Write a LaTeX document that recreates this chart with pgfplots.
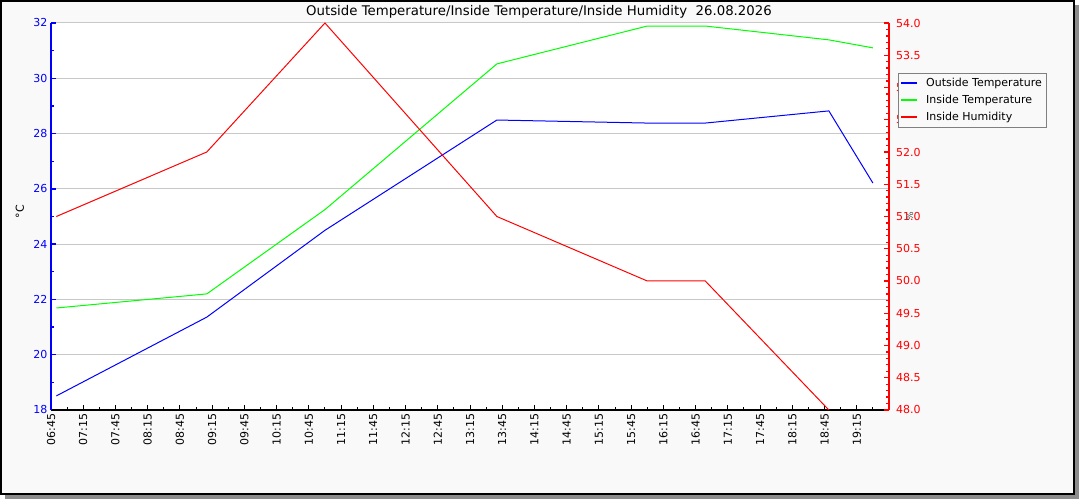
\documentclass[border=0pt]{standalone}
\usepackage{fontspec}
\setmainfont{DejaVu Sans}
\usepackage{pgfplots}
\pgfplotsset{compat=1.18}
\definecolor{bgc}{HTML}{F9F9F9}
\definecolor{gridc}{HTML}{C8C8C8}
\definecolor{shadowc}{HTML}{8C8C8C}
\definecolor{lgdc}{HTML}{808080}
\definecolor{pblue}{HTML}{0000FF}
\definecolor{pgreen}{HTML}{00FF00}
\definecolor{pred}{HTML}{FF0000}
\begin{document}
\begin{tikzpicture}
\useasboundingbox (0pt,0pt) rectangle (1080pt,500pt);
\fill[white] (0pt,0pt) rectangle (1080pt,500pt);
\fill[shadowc] (5pt,1pt) rectangle (1079pt,495pt);
\fill[bgc] (1pt,6pt) rectangle (1074pt,499pt);
\draw[black, line width=1.5pt] (1pt,6pt) rectangle (1074pt,499pt);
\node[font=\fontsize{13.3}{15}\selectfont, anchor=center] at (539pt,488.5pt) {Outside Temperature/Inside Temperature/Inside Humidity\ \ 26.08.2026};
\begin{axis}[
  at={(51pt,90pt)}, anchor=south west,
  scale only axis, width=838pt, height=387pt,
  xmin=6.75, xmax=19.75, ymin=18, ymax=32,
  axis x line*=bottom, axis y line*=left,
  axis line style={-},
  x axis line style={black, line width=1.2pt},
  y axis line style={pblue, line width=1.5pt},
  axis background/.style={fill=white},
  tick align=inside,
  major tick length=5pt, minor tick length=3pt,
  every x tick/.append style={black, line width=1pt},
  every y tick/.append style={pblue, line width=1.3pt},
  xtick={6.75,7.25,...,19.3},
  xticklabels={06:45,07:15,07:45,08:15,08:45,09:15,09:45,10:15,10:45,11:15,11:45,12:15,12:45,13:15,13:45,14:15,14:45,15:15,15:45,16:15,16:45,17:15,17:45,18:15,18:45,19:15},
  minor xtick={7,7.5,...,19.6},
  ytick={18,20,...,32},
  minor ytick={19,21,...,31},
  ymajorgrids,
  major grid style={gridc, line width=1pt},
  xticklabel style={rotate=90, anchor=east, black, font=\fontsize{11}{13}\selectfont},
  yticklabel style={pblue, font=\fontsize{11}{13}\selectfont},
  /pgf/number format/assume math mode=true,
  every axis y label/.style={at={(axis description cs:-0.037,0.512)}, rotate=90, anchor=center, font=\fontsize{11}{13}\selectfont},
  ylabel={°C},
]
\addplot[pblue, line width=1pt] coordinates {
(6.833,18.51) (9.167,21.36) (11.0,24.5) (13.667,28.49) (16.0,28.38) (16.9,28.38) (18.817,28.82) (19.5,26.21)};
\addplot[pgreen, line width=1pt] coordinates {
(6.833,21.69) (9.167,22.2) (11.0,25.25) (13.667,30.52) (16.0,31.89) (16.9,31.89) (18.817,31.39) (19.5,31.1)};
\end{axis}
\begin{axis}[
  at={(51pt,90pt)}, anchor=south west,
  scale only axis, width=838pt, height=387pt,
  xmin=6.75, xmax=19.75, ymin=48, ymax=54,
  hide x axis,
  axis y line*=right,
  axis line style={-},
  y axis line style={pred, line width=1.5pt},
  tick align=inside,
  major tick length=5pt, minor tick length=3pt,
  every y tick/.append style={pred, line width=1.3pt},
  ytick={48,48.5,...,54.1},
  minor y tick num=4,
  yticklabel style={pred, xshift=3.5pt, font=\fontsize{11}{13}\selectfont, /pgf/number format/.cd, fixed, fixed zerofill, precision=1},
  /pgf/number format/assume math mode=true,
  every axis y label/.style={at={(axis description cs:1.025,0.5)}, rotate=90, anchor=center, font=\fontsize{9}{11}\selectfont, black!70},
  ylabel={\%},
  legend style={at={(axis description cs:1.0107,0.871)}, anchor=north west, draw=lgdc, fill=bgc,
    font=\fontsize{11}{13}\selectfont, inner xsep=2pt, inner ysep=2pt, row sep=1pt, column sep=5.5pt,
    cells={anchor=west}, nodes={inner sep=2.5pt, text height=8.5pt, text depth=2.5pt}},
  legend image code/.code={\draw[#1, line width=2pt] (0pt,0pt) -- (16pt,0pt);},
  clip=true,
]
\addlegendimage{pblue}
\addlegendentry{Outside Temperature\hspace{6pt}}
\addlegendimage{pgreen}
\addlegendentry{Inside Temperature}
\addplot[pred, line width=1pt] coordinates {
(6.833,51.0) (9.167,52.0) (11.0,54.0) (13.667,51.0) (16.0,50.0) (16.9,50.0) (18.817,48.0) (19.5,47.5)};
\addlegendentry{Inside Humidity}
\end{axis}
\end{tikzpicture}
\end{document}
